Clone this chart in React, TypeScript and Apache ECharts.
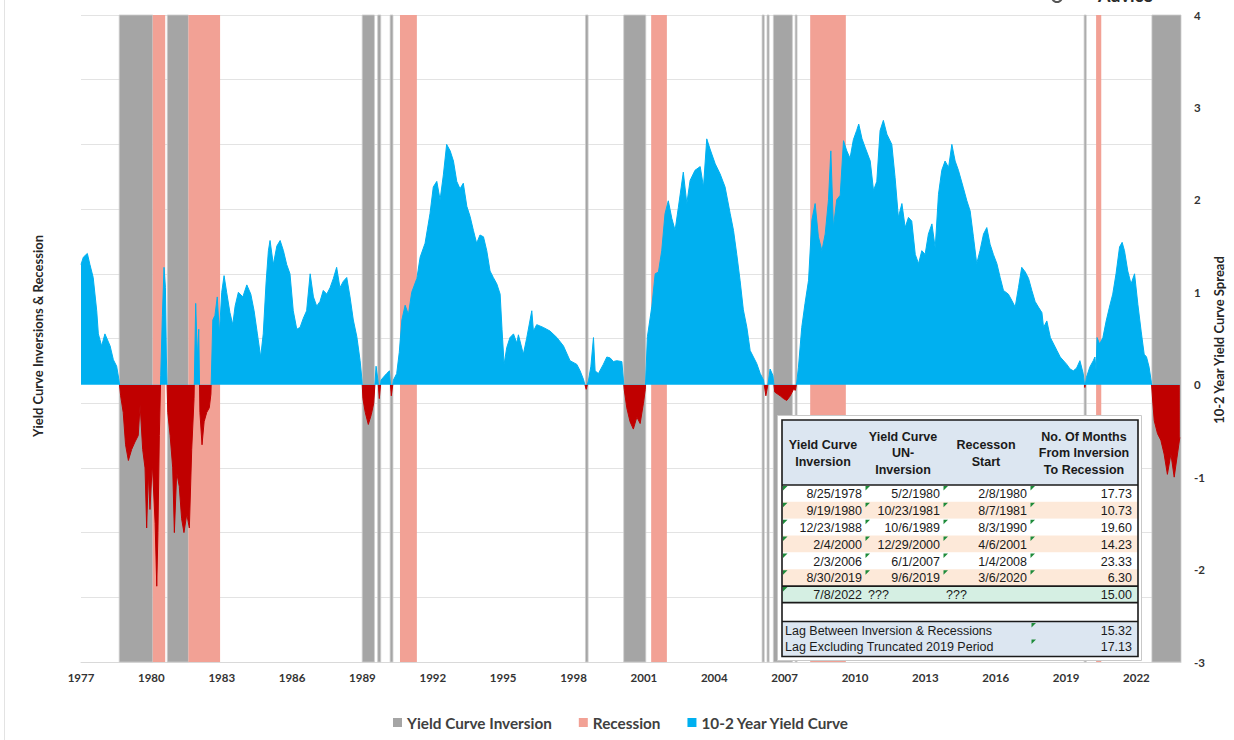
import React, { useEffect, useRef } from 'react';
import * as echarts from 'echarts';

// ---------- DATA ----------
const spreadDates = [
  1977.00, 1977.10, 1977.27, 1977.38, 1977.52, 1977.67, 1977.74, 1977.88, 1978.02, 1978.24, 1978.38, 1978.52, 1978.62,
  1978.69, 1978.80, 1978.90, 1979.02, 1979.16, 1979.30, 1979.44, 1979.52, 1979.63, 1979.73, 1979.80, 1979.87, 1979.94,
  1980.04, 1980.16, 1980.23, 1980.28, 1980.34, 1980.40, 1980.47, 1980.54, 1980.60, 1980.64, 1980.70, 1980.80, 1980.91,
  1980.98, 1981.08, 1981.19, 1981.29, 1981.39, 1981.51, 1981.62, 1981.72, 1981.82, 1981.89, 1981.96, 1982.02, 1982.07,
  1982.16, 1982.25, 1982.36, 1982.47, 1982.54, 1982.62, 1982.71, 1982.81, 1982.90, 1983.00, 1983.10, 1983.21, 1983.35,
  1983.47, 1983.57, 1983.71, 1983.90, 1984.07, 1984.24, 1984.38, 1984.52, 1984.66, 1984.77, 1984.89, 1984.99, 1985.06,
  1985.20, 1985.35, 1985.49, 1985.63, 1985.77, 1985.91, 1986.05, 1986.20, 1986.34, 1986.48, 1986.62, 1986.77, 1986.91,
  1987.05, 1987.19, 1987.33, 1987.48, 1987.62, 1987.76, 1987.90, 1988.04, 1988.19, 1988.33, 1988.47, 1988.61, 1988.76,
  1988.90, 1988.98, 1989.02, 1989.12, 1989.25, 1989.38, 1989.48, 1989.58, 1989.66, 1989.72, 1989.79, 1989.89, 1990.03,
  1990.15, 1990.23, 1990.32, 1990.46, 1990.57, 1990.68, 1990.82, 1990.96, 1991.10, 1991.32, 1991.46, 1991.67, 1991.88,
  1992.02, 1992.17, 1992.31, 1992.45, 1992.59, 1992.74, 1992.88, 1993.02, 1993.16, 1993.30, 1993.45, 1993.59, 1993.73,
  1993.87, 1994.01, 1994.16, 1994.30, 1994.44, 1994.58, 1994.73, 1994.87, 1994.95, 1995.04, 1995.15, 1995.29, 1995.44,
  1995.58, 1995.65, 1995.86, 1996.00, 1996.22, 1996.29, 1996.43, 1996.71, 1997.00, 1997.29, 1997.57, 1997.85, 1998.14,
  1998.28, 1998.42, 1998.54, 1998.64, 1998.74, 1998.85, 1998.92, 1999.06, 1999.27, 1999.42, 1999.56, 1999.70, 1999.84,
  2000.06, 2000.16, 2000.27, 2000.41, 2000.55, 2000.70, 2000.84, 2000.98, 2001.06, 2001.15, 2001.34, 2001.48, 2001.62,
  2001.76, 2001.90, 2002.04, 2002.19, 2002.33, 2002.47, 2002.68, 2002.83, 2002.97, 2003.18, 2003.40, 2003.54, 2003.68,
  2003.82, 2004.04, 2004.25, 2004.46, 2004.68, 2004.82, 2004.96, 2005.10, 2005.24, 2005.39, 2005.53, 2005.67, 2005.81,
  2005.96, 2006.10, 2006.20, 2006.30, 2006.38, 2006.50, 2006.58, 2006.81, 2006.95, 2007.09, 2007.24, 2007.38, 2007.46,
  2007.52, 2007.59, 2007.73, 2007.87, 2008.02, 2008.16, 2008.30, 2008.44, 2008.59, 2008.73, 2008.87, 2008.97, 2009.08,
  2009.22, 2009.37, 2009.51, 2009.65, 2009.79, 2009.93, 2010.07, 2010.16, 2010.30, 2010.43, 2010.65, 2010.79, 2010.93,
  2011.07, 2011.21, 2011.36, 2011.57, 2011.71, 2011.85, 2012.00, 2012.14, 2012.28, 2012.42, 2012.57, 2012.71, 2012.85,
  2012.99, 2013.13, 2013.28, 2013.42, 2013.56, 2013.70, 2013.84, 2013.99, 2014.13, 2014.27, 2014.41, 2014.62, 2014.77,
  2014.91, 2015.05, 2015.19, 2015.33, 2015.48, 2015.62, 2015.76, 2015.90, 2016.05, 2016.19, 2016.33, 2016.54, 2016.69,
  2016.83, 2016.97, 2017.11, 2017.26, 2017.40, 2017.54, 2017.68, 2017.82, 2017.97, 2018.04, 2018.18, 2018.33, 2018.47,
  2018.61, 2018.75, 2019.03, 2019.17, 2019.31, 2019.45, 2019.59, 2019.73, 2019.80, 2019.87, 2020.01, 2020.16, 2020.23,
  2020.28, 2020.32, 2020.43, 2020.57, 2020.71, 2020.85, 2020.99, 2021.13, 2021.28, 2021.39, 2021.49, 2021.63, 2021.77,
  2021.92, 2022.06, 2022.20, 2022.33, 2022.43, 2022.54, 2022.64, 2022.70, 2022.76, 2022.90, 2023.04, 2023.18, 2023.32,
  2023.47, 2023.61, 2023.75, 2023.85,
];
const spreadValues = [
  1.30, 1.38, 1.42, 1.30, 1.16, 0.80, 0.55, 0.42, 0.55, 0.42, 0.27, 0.20, 0.05,
  -0.12, -0.30, -0.65, -0.82, -0.70, -0.62, -0.55, -0.22, -0.70, -0.90, -1.55, -0.95, -1.35,
  -0.85, -1.50, -2.18, -1.60, -0.55, 0.10, 0.75, 1.27, 1.05, 0.30, -0.30, -0.55, -0.90,
  -1.60, -0.95, -1.10, -1.45, -1.60, -1.40, -1.55, -0.70, -0.15, 0.88, 0.30, 0.60, -0.30,
  -0.65, -0.40, -0.30, -0.25, -0.10, 0.70, 0.75, 0.95, 0.55, 1.00, 1.18, 1.00, 0.78,
  0.65, 0.85, 1.00, 0.95, 1.08, 0.98, 0.80, 0.55, 0.30, 0.55, 1.10, 1.45, 1.56,
  1.30, 1.50, 1.56, 1.45, 1.30, 1.20, 0.80, 0.60, 0.62, 0.72, 0.80, 1.20, 0.95,
  0.85, 0.90, 1.02, 0.98, 1.05, 1.15, 1.27, 1.05, 1.12, 1.16, 0.95, 0.70, 0.52,
  0.26, 0.05, -0.15, -0.30, -0.43, -0.32, -0.20, 0.20, 0.05, -0.15, 0.05, 0.08, 0.12,
  0.15, -0.12, 0.05, 0.12, 0.35, 0.70, 0.86, 0.76, 1.00, 1.15, 1.38, 1.53, 1.85,
  2.14, 2.20, 2.00, 2.27, 2.60, 2.53, 2.42, 2.20, 2.12, 2.18, 1.93, 1.82, 1.67,
  1.53, 1.62, 1.60, 1.45, 1.23, 1.16, 1.09, 0.98, 0.60, 0.22, 0.40, 0.51, 0.55,
  0.45, 0.54, 0.33, 0.50, 0.80, 0.58, 0.65, 0.62, 0.58, 0.51, 0.42, 0.26, 0.22,
  0.15, 0.06, -0.05, 0.05, 0.20, 0.51, 0.15, 0.12, 0.22, 0.30, 0.29, 0.25, 0.26,
  0.25, -0.05, -0.25, -0.40, -0.48, -0.35, -0.42, -0.20, -0.05, 0.52, 0.85, 1.20, 1.22,
  1.45, 1.85, 1.99, 1.80, 1.67, 1.92, 2.30, 1.96, 2.21, 2.32, 2.36, 2.14, 2.66,
  2.55, 2.39, 2.28, 2.14, 1.85, 1.67, 1.41, 1.13, 0.81, 0.62, 0.37, 0.30, 0.23,
  0.12, 0.05, -0.12, 0.02, 0.17, 0.10, -0.08, -0.12, -0.15, -0.17, -0.12, -0.05, -0.06,
  0.03, 0.19, 0.62, 0.88, 1.13, 1.78, 1.96, 1.60, 1.45, 1.63, 2.00, 2.53, 1.70,
  2.00, 2.05, 2.64, 2.53, 2.45, 2.65, 2.75, 2.82, 2.66, 2.57, 2.42, 2.10, 2.20,
  2.75, 2.86, 2.71, 2.60, 2.24, 1.81, 1.96, 1.70, 1.81, 1.77, 1.41, 1.31, 1.45,
  1.41, 1.63, 1.74, 1.48, 2.06, 2.32, 2.42, 2.35, 2.60, 2.42, 2.32, 2.13, 1.99,
  1.88, 1.60, 1.31, 1.45, 1.63, 1.70, 1.52, 1.41, 1.31, 1.16, 1.02, 0.98, 0.91,
  0.84, 1.05, 1.27, 1.22, 1.15, 1.02, 0.90, 0.84, 0.78, 0.62, 0.69, 0.51, 0.44,
  0.37, 0.30, 0.22, 0.17, 0.15, 0.18, 0.26, 0.12, -0.03, 0.08, 0.19, 0.26, 0.30,
  0.15, 0.51, 0.44, 0.51, 0.69, 0.84, 0.98, 1.20, 1.49, 1.54, 1.45, 1.23, 1.09,
  1.20, 0.87, 0.58, 0.33, 0.30, 0.19, 0.02, -0.20, -0.39, -0.53, -0.60, -0.75, -0.97,
  -0.75, -1.00, -0.75, -0.57,
];

const inversionStarts = [1978.63, 1980.68, 1988.99, 1989.65, 1990.18, 1998.51, 2000.14, 2006.04, 2006.25, 2006.52, 2007.45, 2019.77, 2022.66];
const inversionEnds = [1980.06, 1981.58, 1989.51, 1989.78, 1990.30, 1998.62, 2001.08, 2006.13, 2006.34, 2007.33, 2007.53, 2019.86, 2023.90];
const recessionStarts = [1980.06, 1981.58, 1990.60, 2001.31, 2008.09, 2020.28];
const recessionEnds = [1980.59, 1982.93, 1991.32, 2001.98, 2009.61, 2020.50];

const xMin = 1977;
const xMax = 2023.9;
const xStep = 3;
const spreadMin = -3;
const spreadMax = 4;
const bandAxisMax = 10;

const tableHeaders = [
  ['Yield Curve', 'Inversion'],
  ['Yield Curve', 'UN-', 'Inversion'],
  ['Recesson', 'Start'],
  ['No. Of Months', 'From Inversion', 'To Recession'],
];
const tableInversion = ['8/25/1978', '9/19/1980', '12/23/1988', '2/4/2000', '2/3/2006', '8/30/2019'];
const tableUnInversion = ['5/2/1980', '10/23/1981', '10/6/1989', '12/29/2000', '6/1/2007', '9/6/2019'];
const tableRecession = ['2/8/1980', '8/7/1981', '8/3/1990', '4/6/2001', '1/4/2008', '3/6/2020'];
const tableMonths = [17.73, 10.73, 19.6, 14.23, 23.33, 6.3];
const currentInversion = '7/8/2022';
const currentUnknown = '???';
const currentMonths = 15.0;
const lagLabels = ['Lag Between Inversion & Recessions', 'Lag Excluding Truncated 2019 Period'];
const lagValues = [15.32, 17.13];

// ---------- STYLE ----------
const GRAY = '#A5A5A5';
const PINK = '#F2A195';
const BLUE = '#00B0F0';
const RED = '#C00000';
const AX_FONT = 'Lato, "Open Sans", sans-serif';
const TB_FONT = '"Liberation Sans", Arial, sans-serif';

function buildGraphic() {
  const els: any[] = [];
  const Z = 50;
  const rect = (x: number, y: number, w: number, h: number, fill: string, stroke?: string, lw?: number) =>
    els.push({
      type: 'rect', z: Z, silent: true,
      shape: { x, y, width: w, height: h },
      style: { fill, stroke: stroke || null, lineWidth: lw || 0 },
    });
  const line = (x1: number, y1: number, x2: number, y2: number, stroke: string, lw: number) =>
    els.push({ type: 'line', z: Z + 2, silent: true, shape: { x1, y1, x2, y2 }, style: { stroke, lineWidth: lw } });
  const text = (x: number, y: number, t: string, align: string, bold: boolean, size = 12, family = TB_FONT, color = '#1a1a1a') =>
    els.push({
      type: 'text', z: Z + 3, silent: true, x, y,
      style: {
        text: t, textAlign: align, align, textVerticalAlign: 'middle', verticalAlign: 'middle',
        font: `${bold ? 'bold ' : ''}${size}px ${family}`, fill: color,
      },
    });
  const tri = (x: number, y: number) =>
    els.push({
      type: 'polygon', z: Z + 4, silent: true,
      shape: { points: [[x, y], [x + 4.5, y], [x, y + 4.5]] },
      style: { fill: '#1E8B3A' },
    });

  rect(777.5, 415.5, 364, 245, '#ffffff', '#c9c9c9', 1);
  const L = 782, R = 1138, W = R - L;
  const top = 420, headBottom = 485, rowH = 16.85;
  rect(L, top, W, headBottom - top, '#DCE6F1');
  for (let i = 0; i < 6; i++) {
    rect(L, headBottom + i * rowH, W, rowH, i % 2 === 1 ? '#FDE9D9' : '#ffffff');
  }
  const dataBottom = headBottom + 6 * rowH;
  rect(L, dataBottom, W, 16.5, '#D5EFE3');
  const greenBottom = dataBottom + 16.5;
  const sumTop = 621.5, sumBottom = 656.5;
  rect(L, sumTop, W, sumBottom - sumTop, '#DCE6F1');
  els.push({ type: 'rect', z: Z + 2, silent: true, shape: { x: L, y: top, width: W, height: sumBottom - top }, style: { fill: null, stroke: '#1a1a1a', lineWidth: 1.6 } });
  line(L, headBottom, R, headBottom, '#1a1a1a', 1.6);
  line(L, dataBottom, R, dataBottom, '#1a1a1a', 1.6);
  line(L, greenBottom, R, greenBottom, '#1a1a1a', 1.6);
  line(L, sumTop, R, sumTop, '#1a1a1a', 1.6);

  const centers = [823, 903, 986, 1084];
  tableHeaders.forEach((lines, c) => {
    const n = lines.length;
    const y0 = n === 2 ? 445 : 436.7;
    lines.forEach((t, k) => text(centers[c], y0 + k * 16.7, t, 'center', true, 12.5));
  });

  const rights = [862, 940, 1027, 1132];
  const cellLefts = [783, 865.5, 943.5, 1030.5];
  for (let i = 0; i < 6; i++) {
    const yc = headBottom + (i + 0.5) * rowH + 0.8;
    text(rights[0], yc, tableInversion[i], 'right', false, 12.5);
    text(rights[1], yc, tableUnInversion[i], 'right', false, 12.5);
    text(rights[2], yc, tableRecession[i], 'right', false, 12.5);
    text(rights[3], yc, tableMonths[i].toFixed(2), 'right', false, 12.5);
    cellLefts.forEach((x) => tri(x, headBottom + i * rowH + 1));
  }
  const gy = dataBottom + 8.5;
  text(rights[0], gy, currentInversion, 'right', false, 12.5);
  text(868, gy, currentUnknown, 'left', false, 12.5);
  text(946, gy, currentUnknown, 'left', false, 12.5);
  text(rights[3], gy, currentMonths.toFixed(2), 'right', false, 12.5);
  tri(783, dataBottom + 1);

  lagLabels.forEach((t, k) => {
    const yc = 630.8 + k * 16.6;
    text(785, yc, t, 'left', false, 12.5);
    text(rights[3], yc, lagValues[k].toFixed(2), 'right', false, 12.5);
    tri(1031.5, 623 + k * 16.6);
  });

  els.push({
    type: 'text', z: Z, silent: true, x: 38, y: 336, rotation: Math.PI / 2,
    style: { text: 'Yield Curve Inversions & Recession', textAlign: 'center', align: 'center', textVerticalAlign: 'middle', verticalAlign: 'middle', font: `bold 13px ${AX_FONT}`, fill: '#262626' },
  });
  els.push({
    type: 'text', z: Z, silent: true, x: 1219, y: 340, rotation: Math.PI / 2,
    style: { text: '10-2 Year Yield Curve Spread', textAlign: 'center', align: 'center', textVerticalAlign: 'middle', verticalAlign: 'middle', font: `bold 13px ${AX_FONT}`, fill: '#262626' },
  });
  els.push({
    type: 'text', z: Z, silent: true, x: 1098, y: 4,
    style: { text: 'Advice', textAlign: 'left', align: 'left', textVerticalAlign: 'bottom', verticalAlign: 'bottom', font: `bold 18px ${AX_FONT}`, fill: '#2b2b2b' },
  });
  els.push({ type: 'circle', z: Z, silent: true, shape: { cx: 1057, cy: -3, r: 5 }, style: { fill: null, stroke: '#555', lineWidth: 2 } });
  els.push({ type: 'line', z: Z, silent: true, shape: { x1: 4.5, y1: 0, x2: 4.5, y2: 740 }, style: { stroke: '#e3e3e3', lineWidth: 1 } });
  return els;
}

function bandRenderer(fill: string, stroke: string | null) {
  return (params: any, api: any) => {
    const p0 = api.coord([api.value(0), bandAxisMax]);
    const p1 = api.coord([api.value(1), 0]);
    return {
      type: 'rect',
      shape: { x: p0[0], y: p0[1], width: p1[0] - p0[0], height: p1[1] - p0[1] },
      style: { fill, stroke, lineWidth: stroke ? 0.8 : 0 },
    };
  };
}

export default function App() {
  const ref = useRef<HTMLDivElement>(null);
  useEffect(() => {
    if (!ref.current) return;
    const chart = echarts.init(ref.current, null, { renderer: 'svg' });
    const option: any = {
      animation: false,
      backgroundColor: '#ffffff',
      grid: { left: 81, right: 53, top: 15, bottom: 78, containLabel: false },
      legend: {
        left: 388, top: 710, itemWidth: 9, itemHeight: 9, itemGap: 27, icon: 'rect',
        textStyle: { fontFamily: AX_FONT, fontWeight: 'bold', fontSize: 15.3, color: '#404040' },
        data: [
          { name: 'Yield Curve Inversion', itemStyle: { color: GRAY } },
          { name: 'Recession', itemStyle: { color: PINK } },
          { name: '10-2 Year Yield Curve', itemStyle: { color: BLUE } },
        ],
      },
      xAxis: {
        type: 'value', min: xMin, max: xMax, interval: xStep,
        axisLine: { show: true, onZero: false, lineStyle: { color: '#d9d9d9', width: 1 } },
        axisTick: { show: false },
        splitLine: { show: false },
        axisLabel: {
          showMaxLabel: false, margin: 9,
          fontFamily: AX_FONT, fontWeight: 'bold', fontSize: 11.5, color: '#333',
          formatter: (v: number) => {
            const r = Math.round(v);
            return Math.abs(v - r) < 1e-6 && (r - xMin) % xStep === 0 ? String(r) : '';
          },
        },
      },
      yAxis: [
        {
          type: 'value', min: 0, max: bandAxisMax, interval: 1,
          axisLabel: { show: false }, axisLine: { show: false }, axisTick: { show: false },
          splitLine: { show: true, lineStyle: { color: '#e3e3e3', width: 1 } },
        },
        {
          type: 'value', position: 'right', min: spreadMin, max: spreadMax, interval: 1,
          axisLine: { show: false }, axisTick: { show: false }, splitLine: { show: false },
          axisLabel: { margin: 13, fontFamily: AX_FONT, fontWeight: 'bold', fontSize: 11.5, color: '#333' },
        },
      ],
      visualMap: {
        type: 'piecewise', show: false, seriesIndex: 2, dimension: 1,
        pieces: [
          { gte: spreadMin - 1, lt: 0, color: RED },
          { gte: 0, lte: spreadMax + 1, color: BLUE },
        ],
        outOfRange: { color: BLUE },
      },
      series: [
        {
          name: 'Yield Curve Inversion', type: 'custom', z: 1, silent: true,
          itemStyle: { color: GRAY },
          encode: { x: [0, 1], y: 2 },
          renderItem: bandRenderer(GRAY, '#cdcdcd'),
          data: inversionStarts.map((s, i) => [s, inversionEnds[i], 0]),
        },
        {
          name: 'Recession', type: 'custom', z: 1, silent: true,
          itemStyle: { color: PINK },
          encode: { x: [0, 1], y: 2 },
          renderItem: bandRenderer(PINK, null),
          data: recessionStarts.map((s, i) => [s, recessionEnds[i], 0]),
        },
        {
          name: '10-2 Year Yield Curve', type: 'line', yAxisIndex: 1, z: 3,
          symbol: 'none', showSymbol: false,
          itemStyle: { color: BLUE },
          lineStyle: { width: 1 },
          areaStyle: { opacity: 1 },
          data: spreadDates.map((d, i) => [d, spreadValues[i]]),
        },
      ],
      graphic: { elements: buildGraphic() },
    };
    chart.setOption(option);
    return () => chart.dispose();
  }, []);
  return (
    <div
      ref={ref}
      style={{ position: 'fixed', left: 0, top: 0, width: 1234, height: 740, background: '#fff' }}
    />
  );
}
